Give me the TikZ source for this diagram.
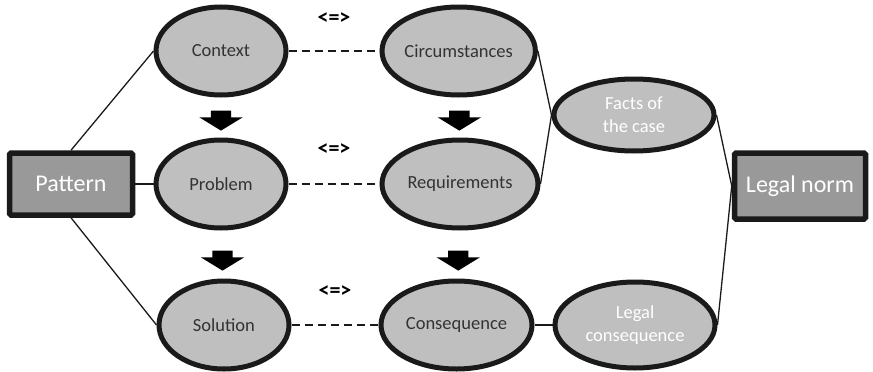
\documentclass[tikz,border=0pt]{standalone}
\usepackage{fontspec}
\setmainfont{Carlito}
\usetikzlibrary{shapes.geometric, shapes.arrows, positioning, calc}
\definecolor{ellgray}{HTML}{BFBFBF}
\definecolor{boxgray}{HTML}{999999}
\definecolor{rim}{HTML}{1A1A1A}
\tikzset{
    term/.style={ellipse, draw=rim, line width=5pt, fill=ellgray, minimum width=130pt, minimum height=88pt, inner sep=0pt, align=center, text=black!80, font=\fontsize{18.5}{23}\selectfont},
    legal/.style={term, text=white, minimum width=160pt},
    bigbox/.style={rectangle, draw=rim, line width=5.5pt, fill=boxgray, rounded corners=1.5pt, inner sep=0pt, text=white, font=\fontsize{24}{28}\selectfont},
    downarrow/.style={single arrow, fill=black, draw=none, rotate=-90, inner xsep=0pt, inner ysep=10pt, single arrow head extend=11.5pt, single arrow tip angle=117, minimum height=20pt},
    eqv/.style={font=\fontsize{22}{22}\selectfont\bfseries},
    link/.style={line width=1.3pt, draw=rim},
    analog/.style={line width=2pt, dash pattern=on 8pt off 5pt, draw=rim}
}
\begin{document}
\begin{tikzpicture}[x=1pt, y=-1pt]
    \useasboundingbox (0,0) rectangle (873,372);

    % pattern side
    \node (problem) [term] at (221,184) {Problem};
    \node (context) [term, above=40pt of problem] {Context};
    \node (solution) [term, below=48pt of problem, xshift=3pt] {Solution};

    % legal side
    \node (req) [term, minimum width=156pt, right=91pt of problem] {Requirements};
    \node (circ) [term, minimum width=151pt, right=91pt of context] {Circumstances};
    \node (cons) [term, minimum width=151pt, right=87pt of solution] {Consequence};

    \node (facts) [legal, minimum height=72pt] at (634,115) {Facts of\\the case};
    \node (legalcons) [legal, minimum height=86pt] at (635,325) {Legal\\consequence};

    \node (pattern) [bigbox, minimum width=123pt, minimum height=62pt] at (71,184) {Pattern};
    \node (norm) [bigbox, minimum width=131pt, minimum height=66pt] at (800,186) {Legal norm};

    % block arrows between the rows
    \node (a1) [downarrow] at ($(context.south)!0.5!(problem.north)$) {};
    \node (a2) [downarrow] at ($(circ.south)!0.5!(req.north)$) {};
    \node (a3) [downarrow] at ($(problem.south)!0.5!(solution.north)+(0,3)$) {};
    \node (a4) [downarrow] at ($(req.south)!0.5!(cons.north)+(0,3)$) {};

    % correspondences
    \draw [analog] (context.east) -- (circ.west);
    \draw [analog] (problem.east) -- (req.west);
    \draw [analog] (solution.east) -- (cons.west);
    \node (eq1) [eqv] at ($(context.east)!0.5!(circ.west)+(0,-32)$) {<=>};
    \node (eq2) [eqv] at ($(problem.east)!0.5!(req.west)+(0,-34)$) {<=>};
    \node (eq3) [eqv] at ($(solution.east)!0.5!(cons.west)+(0,-33)$) {<=>};

    % plain links
    \draw [link] (pattern.north) -- (context.west);
    \draw [link] (pattern.east) -- (problem.west);
    \draw [link] (pattern.south) -- (solution.west);
    \draw [link] (circ.east) -- (facts.west);
    \draw [link] (req.east) -- (facts.west);
    \draw [link] (cons.east) -- (legalcons.west);
    \draw [link] (facts.east) -- (norm.west);
    \draw [link] (legalcons.east) -- (norm.west);

\end{tikzpicture}
\end{document}
